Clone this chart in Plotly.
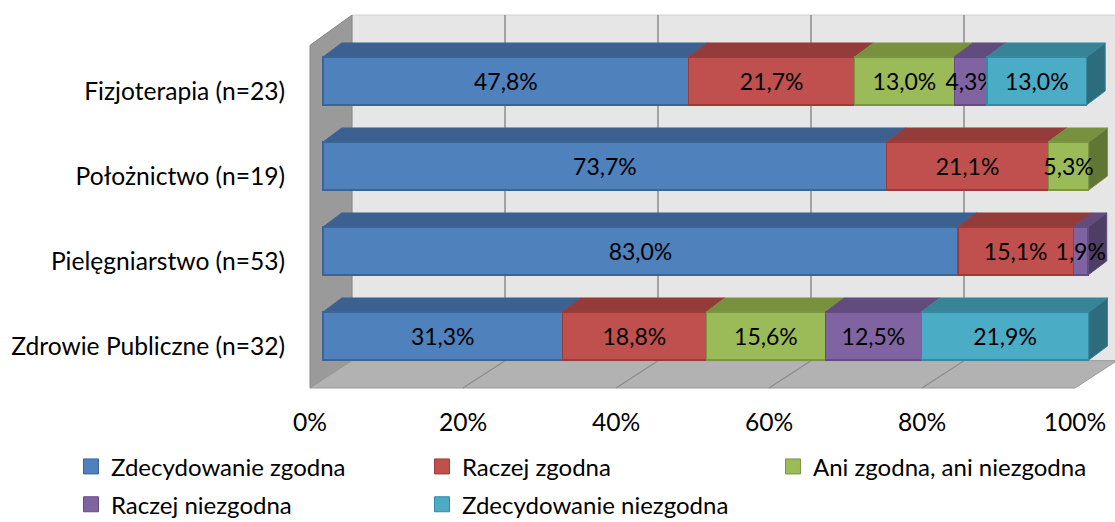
import plotly.graph_objects as go

# ── DATA ─────────────────────────────────────────────────────────────
categories = ["Zdrowie Publiczne (n=32)", "Pielęgniarstwo (n=53)",
              "Położnictwo (n=19)", "Fizjoterapia (n=23)"]
series_names = ["Zdecydowanie zgodna", "Raczej zgodna", "Ani zgodna, ani niezgodna",
                "Raczej niezgodna", "Zdecydowanie niezgodna"]
zdecydowanie_zgodna = [31.3, 83.0, 73.7, 47.8]
raczej_zgodna = [18.8, 15.1, 21.1, 21.7]
ani_zgodna_ani_niezgodna = [15.6, None, 5.3, 13.0]
raczej_niezgodna = [12.5, 1.9, None, 4.3]
zdecydowanie_niezgodna = [21.9, None, None, 13.0]
x_ticks = [0, 20, 40, 60, 80, 100]

series_values = [zdecydowanie_zgodna, raczej_zgodna, ani_zgodna_ani_niezgodna,
                 raczej_niezgodna, zdecydowanie_niezgodna]

# ── STYLE ────────────────────────────────────────────────────────────
# front, edge, top face, side face
PALETTE = [
    ("#4F81BD", "#3A6596", "#3C6190", "#2F4F77"),
    ("#C0504D", "#9C3B39", "#943C3A", "#76302E"),
    ("#9BBB59", "#7A9642", "#77913F", "#607634"),
    ("#8064A2", "#634C80", "#624C7D", "#4E3D64"),
    ("#4BACC6", "#37899F", "#398396", "#2D6C7C"),
]
FONT = "Lato"
FS = 24.6        # axis text
FS_LEG = 24      # legend text
FS_BAR = 23      # data labels

BAR_W = 0.565            # bar thickness in row units
DEPTH_X, DEPTH_Y = 2.45, 0.165   # bar depth (oblique projection)
# 3D frame, relative to bar front plane (data units)
FLOOR_X, FLOOR_Y = -1.70, -0.612
WALL_X, WALL_Y0, WALL_Y1 = 3.79, -0.290, 3.776
LWALL_TOP = 3.42

X_RANGE = [-3.007, 103.53]
Y_RANGE = [-0.635, 3.953]

fig = go.Figure()
shapes = []


def poly(pts, fill, line=None, width=0):
    path = "M " + " L ".join(f"{x},{y}" for x, y in pts) + " Z"
    return dict(type="path", path=path, xref="x", yref="y", layer="below",
                fillcolor=fill, line=dict(color=line or fill, width=width))


# ── 3D FRAME: back wall, left wall, floor ───────────────────────────
shapes.append(poly([(WALL_X, WALL_Y0), (WALL_X + 100, WALL_Y0), (WALL_X + 100, WALL_Y1),
                    (WALL_X, WALL_Y1)], "#E6E6E6", "#D0D0D0", 1))
for v in x_ticks[1:]:
    shapes.append(dict(type="line", xref="x", yref="y", layer="below",
                       x0=WALL_X + v, x1=WALL_X + v, y0=WALL_Y0, y1=WALL_Y1,
                       line=dict(color="#8C8C8C", width=1.5)))
shapes.append(poly([(FLOOR_X, FLOOR_Y), (WALL_X, WALL_Y0), (WALL_X, WALL_Y1),
                    (FLOOR_X, LWALL_TOP)], "#9A9A9A", "#888888", 1))
shapes.append(poly([(FLOOR_X, FLOOR_Y), (FLOOR_X + 100, FLOOR_Y), (WALL_X + 100, WALL_Y0),
                    (WALL_X, WALL_Y0)], "#B2B2B2", "#9A9A9A", 1))
for v in x_ticks[1:-1]:
    shapes.append(dict(type="line", xref="x", yref="y", layer="below",
                       x0=FLOOR_X + v, x1=WALL_X + v, y0=FLOOR_Y, y1=WALL_Y0,
                       line=dict(color="#8C8C8C", width=1.2)))

# ── 3D BAR FACES (top + right side of last segment) ─────────────────
for r in range(len(categories)):
    start = 0.0
    last = None
    yt, yb = r + BAR_W / 2, r - BAR_W / 2
    for s, vals in enumerate(series_values):
        v = vals[r]
        if not v:
            continue
        x0, x1 = start, start + v
        front, edge, top, side = PALETTE[s]
        shapes.append(poly([(x0, yt), (x1, yt), (x1 + DEPTH_X, yt + DEPTH_Y),
                            (x0 + DEPTH_X, yt + DEPTH_Y)], top, edge, 1))
        last = (x1, side, edge)
        start = x1
    x1, side, edge = last
    shapes.append(poly([(x1, yb), (x1, yt), (x1 + DEPTH_X, yt + DEPTH_Y),
                        (x1 + DEPTH_X, yb + DEPTH_Y)], side, edge, 1))

# ── BAR FRONT FACES ──────────────────────────────────────────────────
for s, (name, vals) in enumerate(zip(series_names, series_values)):
    front, edge, _, _ = PALETTE[s]
    fig.add_trace(go.Bar(
        orientation="h", name=name, y=list(range(len(categories))), x=vals,
        width=BAR_W, marker=dict(color=front, line=dict(color=edge, width=1.2)),
        texttemplate="%{x:.1f}%", textposition="inside", insidetextanchor="middle",
        textangle=0, textfont=dict(family=FONT, size=FS_BAR, color="black"),
        cliponaxis=False, showlegend=False,
    ))

# legend entries with bigger square swatches (legend-only traces)
for s, name in enumerate(series_names):
    front, edge, _, _ = PALETTE[s]
    fig.add_trace(go.Scatter(
        x=[None], y=[None], mode="markers", name=name,
        marker=dict(symbol="square", size=15, color=front, line=dict(color=edge, width=1)),
        legend="legend" if s < 3 else "legend2", hoverinfo="skip",
    ))

# invisible anchor trace so the label axes are drawn
fig.add_trace(go.Scatter(x=[0], y=[0], xaxis="x2", yaxis="y2", mode="markers",
                         marker=dict(opacity=0), showlegend=False, hoverinfo="skip"))

legend_style = dict(orientation="h", xanchor="left", yanchor="middle",
                    entrywidth=306, entrywidthmode="pixels", traceorder="normal",
                    itemwidth=30,
                    font=dict(family=FONT, size=FS_LEG), bgcolor="rgba(0,0,0,0)")

fig.update_layout(
    width=1115, height=522,
    margin=dict(l=300, r=0, t=0, b=132, autoexpand=False),
    paper_bgcolor="white", plot_bgcolor="rgba(0,0,0,0)",
    barmode="stack", separators=",.",
    font=dict(family=FONT, size=FS, color="black"),
    uniformtext=dict(minsize=FS_BAR, mode="show"),
    shapes=shapes,
    xaxis=dict(range=X_RANGE, visible=False, fixedrange=True),
    yaxis=dict(range=Y_RANGE, visible=False, fixedrange=True),
    xaxis2=dict(overlaying="x", anchor="y2", side="bottom",
                range=[(300 - 310) / 7.65, (1115 - 310) / 7.65],
                tickvals=x_ticks, ticktext=[f"{v}%" for v in x_ticks],
                showgrid=False, zeroline=False, showline=False,
                ticks="outside", ticklen=0, ticklabelstandoff=10, fixedrange=True),
    yaxis2=dict(overlaying="y", anchor="x2", side="left",
                range=[-0.518, 4.071],
                tickvals=list(range(len(categories))), ticktext=categories,
                showgrid=False, zeroline=False, showline=False,
                ticks="outside", ticklen=0, ticklabelstandoff=9, fixedrange=True),
    legend=dict(legend_style, x=-0.281, y=-0.197),
    legend2=dict(legend_style, x=-0.281, y=-0.294),
    showlegend=True,
)

# page body margin would push the figure 8px off the window
fig.write_html("out.html", config={"displayModeBar": False},
               post_script="document.body.style.margin='0';")
